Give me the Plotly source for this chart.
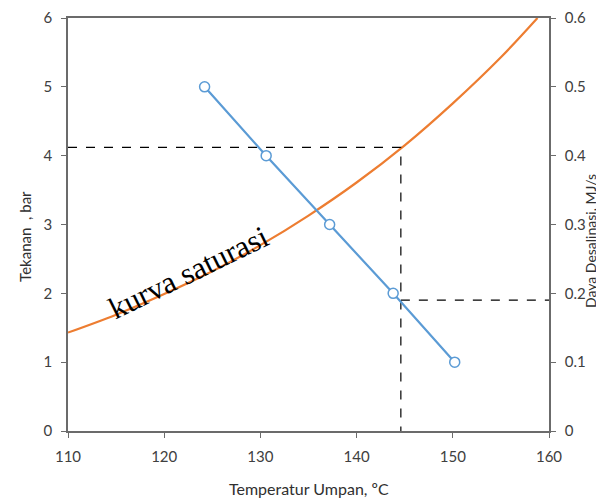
import plotly.graph_objects as go

# Saturation curve (pressure, bar)
sat_temp = [110, 115, 120, 125, 130, 135, 140, 145, 150, 155, 158.8]
sat_pres = [1.43, 1.69, 1.99, 2.32, 2.70, 3.13, 3.61, 4.15, 4.76, 5.43, 6.0]

# Desalination power (MJ/s) vs feed temperature
dd_temp = [124.2, 130.6, 137.2, 143.8, 150.2]
dd_power = [0.5, 0.4, 0.3, 0.2, 0.1]

# Reading guide lines
guide_temp = 144.6
guide_pres = 4.12
guide_power = 0.19

x_ticks = [110, 120, 130, 140, 150, 160]
y_ticks = [0, 1, 2, 3, 4, 5, 6]
y2_ticks = [0, 0.1, 0.2, 0.3, 0.4, 0.5, 0.6]

FONT = "Lato"
TICKC = "#404040"
AXC = "#6b6b6b"
TITC = "#303030"

fig = go.Figure()

fig.add_trace(go.Scatter(
    x=sat_temp, y=sat_pres, mode="lines", line=dict(color="#ED7D31", width=2.2, shape="spline"),
    showlegend=False, hoverinfo="skip"))

# dashed guides
fig.add_trace(go.Scatter(
    x=[x_ticks[0], guide_temp, guide_temp], y=[guide_pres, guide_pres, 0], mode="lines",
    line=dict(color="black", width=1.2, dash="dash"), showlegend=False))
fig.add_trace(go.Scatter(
    x=[guide_temp, x_ticks[-1]], y=[guide_power, guide_power], mode="lines", yaxis="y2",
    line=dict(color="black", width=1.2, dash="dash"), showlegend=False))

fig.add_trace(go.Scatter(
    x=dd_temp, y=dd_power, mode="lines+markers", yaxis="y2",
    line=dict(color="#5B9BD5", width=2.2),
    marker=dict(symbol="circle", size=10, color="white", line=dict(color="#5B9BD5", width=1.5)),
    showlegend=False))

fig.add_annotation(
    x=122.5, y=2.3, xref="x", yref="y", text="kurva saturasi", showarrow=False,
    textangle=-26, font=dict(family="Liberation Serif", size=31, color="black"))

# axis titles
fig.add_annotation(x=0, y=0.47, xref="paper", yref="paper", xshift=-43, xanchor="center",
                   yanchor="middle", text="Tekanan  , bar",
                   showarrow=False, textangle=-90, font=dict(family=FONT, size=15, color=TITC))
fig.add_annotation(x=1, y=0.46, xref="paper", yref="paper", xshift=41, xanchor="center",
                   yanchor="middle", text="Daya Desalinasi, MJ/s",
                   showarrow=False, textangle=-90, font=dict(family=FONT, size=14, color=TITC))
fig.add_annotation(x=0.5, y=0, xref="paper", yref="paper", yshift=-57, xanchor="center",
                   yanchor="middle", text="Temperatur Umpan, ºC",
                   showarrow=False, font=dict(family=FONT, size=16, color=TITC))

fig.update_layout(
    width=604, height=501,
    margin=dict(l=60, r=63, t=10, b=78),
    plot_bgcolor="white", paper_bgcolor="white",
    font=dict(family=FONT, size=15, color=TICKC),
    xaxis=dict(range=[110, 160], tickvals=x_ticks, showgrid=False, zeroline=False, automargin=False,
               showline=True, linecolor=AXC, linewidth=1.5, mirror=True,
               ticks="outside", ticklen=5, tickcolor=AXC, ticklabelstandoff=6),
    yaxis=dict(range=[0, 6], tickvals=y_ticks, showgrid=False, zeroline=False, automargin=False,
               showline=True, linecolor=AXC, linewidth=1.5,
               ticks="outside", ticklen=5, tickcolor=AXC, ticklabelstandoff=6),
    yaxis2=dict(range=[0, 0.6], tickvals=y2_ticks, overlaying="y", side="right", automargin=False,
                showgrid=False, zeroline=False, showline=True, linecolor=AXC, linewidth=1.5,
                ticks="outside", ticklen=5, tickcolor=AXC, ticklabelstandoff=6),
)

fig.write_html("out.html")
